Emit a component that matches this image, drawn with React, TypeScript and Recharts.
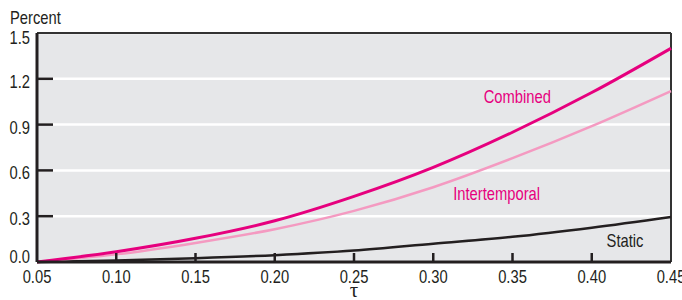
import React from 'react';
import { LineChart, Line, XAxis, YAxis, CartesianGrid, ReferenceLine, ReferenceDot } from 'recharts';

const tauValues = [0.05, 0.10, 0.15, 0.20, 0.25, 0.30, 0.35, 0.40, 0.45];
const combined = [0.0, 0.067, 0.155, 0.27, 0.43, 0.62, 0.85, 1.11, 1.40];
const intertemporal = [0.0, 0.05, 0.125, 0.215, 0.335, 0.49, 0.68, 0.89, 1.12];
const staticVals = [0.0, 0.01, 0.025, 0.045, 0.075, 0.12, 0.165, 0.225, 0.295];
const xTicks = [0.05, 0.10, 0.15, 0.20, 0.25, 0.30, 0.35, 0.40, 0.45];
const yTicks = [0, 0.3, 0.6, 0.9, 1.2, 1.5];

const data = tauValues.map((t, i) => ({
  tau: t,
  combined: combined[i],
  intertemporal: intertemporal[i],
  static: staticVals[i],
}));

const FONT = '"Liberation Sans", Arial, sans-serif';
const DARK = '#231f20';
const MAGENTA = '#e6007e';
const PINK = '#f49ac1';
const PLOT_BG = '#e6e7e9';
const SQUEEZE = 0.82;

// layout
const CHART_W = 682;
const CHART_H = 300;
const M_TOP = 33;
const M_RIGHT = 11;
const YAXIS_W = 37;
const XAXIS_H = 38;
const PLOT_RIGHT = CHART_W - M_RIGHT;

const CondText = ({ x, y, anchor, color, size = 18, children }: any) => (
  <text
    transform={`translate(${x},${y}) scale(${SQUEEZE},1)`}
    textAnchor={anchor}
    fontFamily={FONT}
    fontSize={size}
    fill={color}
  >
    {children}
  </text>
);

const XTick = (props: any) => {
  const { x, y, payload } = props;
  const v = payload.value;
  const inner = v > xTicks[0] + 1e-9 && v < xTicks[xTicks.length - 1] - 1e-9;
  return (
    <g>
      {inner && <rect x={x - 1.25} y={y - 9} width={2.5} height={9} fill={DARK} />}
      <CondText x={x} y={y + 21} anchor="middle" color={DARK}>{v.toFixed(2)}</CondText>
    </g>
  );
};

const YTick = (props: any) => {
  const { x, y, payload } = props;
  const v = payload.value;
  const inner = v > yTicks[0] && v < yTicks[yTicks.length - 1];
  let dy = 3;
  if (v === 0) dy = -5;
  if (v === 1.5) dy = 5;
  return (
    <g>
      {inner && <rect x={x} y={y - 1.25} width={16} height={2.5} fill={DARK} />}
      <CondText x={x - 7} y={y + dy + 6} anchor="end" color={DARK}>{v.toFixed(1)}</CondText>
    </g>
  );
};

const makeLabel = (text: string, color: string) => (props: any) => {
  const { cx, cy } = props;
  return <CondText x={cx} y={cy + 6.5} anchor="middle" color={color}>{text}</CondText>;
};

export default function App() {
  return (
    <div style={{ position: 'absolute', left: 0, top: 0, width: CHART_W, height: CHART_H, background: '#fff' }}>
      <div
        style={{
          position: 'absolute',
          left: YAXIS_W,
          top: M_TOP,
          width: PLOT_RIGHT - YAXIS_W,
          height: CHART_H - M_TOP - XAXIS_H,
          background: PLOT_BG,
        }}
      />
      <LineChart width={CHART_W} height={CHART_H} data={data} margin={{ top: M_TOP, right: M_RIGHT, left: 0, bottom: 0 }}>
        <CartesianGrid horizontal={true} vertical={false} stroke="#ffffff" strokeWidth={2.5} fill="none" />
        <XAxis
          dataKey="tau"
          type="number"
          domain={[0.05, 0.45]}
          ticks={xTicks}
          height={XAXIS_H}
          tickSize={0}
          tickMargin={0}
          tickLine={false}
          axisLine={{ stroke: DARK, strokeWidth: 3 }}
          tick={<XTick />}
          interval={0}
          label={{
            content: (p: any) => {
              const vb = p.viewBox;
              return (
                <text x={vb.x + vb.width / 2} y={vb.y + 35} textAnchor="middle" fontFamily='"Liberation Serif", serif' fontSize={21} fill={DARK}>
                  τ
                </text>
              );
            },
          }}
        />
        <YAxis
          type="number"
          domain={[0, 1.5]}
          ticks={yTicks}
          width={YAXIS_W}
          tickSize={0}
          tickMargin={0}
          tickLine={false}
          axisLine={{ stroke: DARK, strokeWidth: 3 }}
          tick={<YTick />}
          interval={0}
          label={{
            content: (p: any) => {
              const vb = p.viewBox;
              return <CondText x={vb.x + 10} y={vb.y - 9} anchor="start" color={DARK}>Percent</CondText>;
            },
          }}
        />
        <ReferenceLine y={1.5} stroke="#333333" strokeWidth={2} />
        <ReferenceLine x={0.45} stroke="#333333" strokeWidth={2} />
        <Line type="monotone" dataKey="static" stroke={DARK} strokeWidth={2.5} dot={false} isAnimationActive={false} />
        <Line type="monotone" dataKey="intertemporal" stroke={PINK} strokeWidth={2.5} dot={false} isAnimationActive={false} />
        <Line type="monotone" dataKey="combined" stroke={MAGENTA} strokeWidth={3} dot={false} isAnimationActive={false} />
        <ReferenceDot x={0.353} y={1.085} r={0} shape={makeLabel('Combined', MAGENTA)} />
        <ReferenceDot x={0.34} y={0.45} r={0} shape={makeLabel('Intertemporal', MAGENTA)} />
        <ReferenceDot x={0.421} y={0.143} r={0} shape={makeLabel('Static', DARK)} />
      </LineChart>
    </div>
  );
}
